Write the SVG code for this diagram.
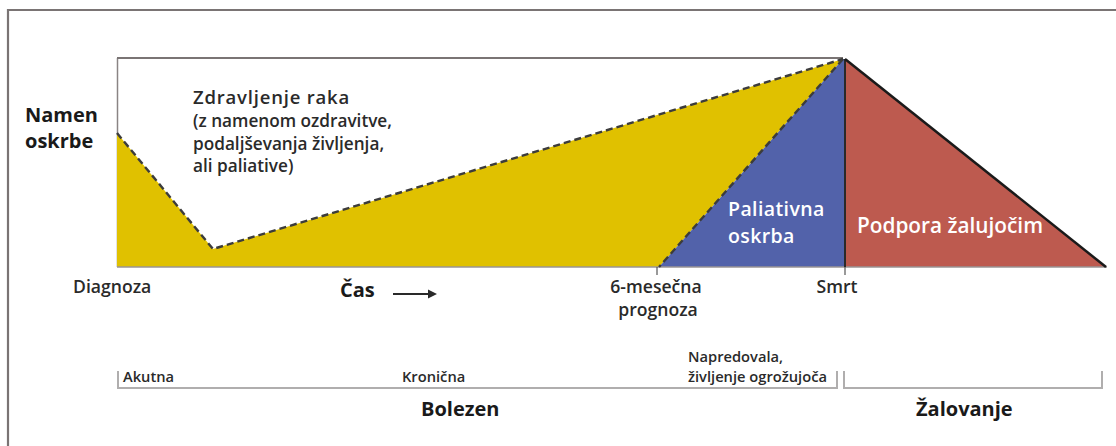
<svg xmlns="http://www.w3.org/2000/svg" width="1116" height="446" viewBox="0 0 1116 446">
<style>
text{font-family:"Open Sans","Noto Sans","Liberation Sans",sans-serif;fill:#2a2a2a;font-weight:600}
.b{font-weight:bold;fill:#1a1a1a;font-size:20px}
.w{fill:#ffffff}
.lbl{font-size:17.6px}
.sm{font-size:14.7px}
.frame{fill:none;stroke:#7a7474;stroke-width:2.2}
.br{fill:none;stroke:#b0aeae;stroke-width:2}
.dash{fill:none;stroke:#3c3c3c;stroke-width:2.4;stroke-dasharray:7 4}
</style>
<rect width="1116" height="446" fill="#ffffff"/>
<g id="frame">
<path class="frame" d="M8,446 V10 H1116"/>
</g>
<g id="chart">
<path d="M117.5,58 V267" fill="none" stroke="#8a8484" stroke-width="1.5"/>
<path d="M117,58 H843" fill="none" stroke="#7a7474" stroke-width="2"/>
<polygon id="cancer-care" points="117,133 213,249 843,59 659,267 117,267" fill="#e0c100"/>
<polygon id="palliative" points="843,59 845,59 845,267 659,267" fill="#5262aa"/>
<polygon id="bereavement" points="845,59 1106,267 845,267" fill="#bd5a4f"/>
<path d="M117,267 H1107" fill="none" stroke="#9a9494" stroke-width="1.5"/>
</g>
<g id="connectors">
<path class="dash" d="M117,133 L213,249 L843,59"/>
<path class="dash" d="M843,59 L659,267"/>
<path d="M845,59 V267" stroke="#2a2a2a" stroke-width="2" fill="none"/>
<path d="M845,59 L1106,267" stroke="#1a1a1a" stroke-width="2.5" fill="none"/>
<path d="M657,267 V275" stroke="#555" stroke-width="1.2"/>
<path d="M845,267 V275" stroke="#555" stroke-width="1.2"/>
<path d="M393,294 H430" stroke="#2a2a2a" stroke-width="2"/>
<polygon points="428,289.5 437,294 428,298.5" fill="#2a2a2a"/>
<path class="br" d="M118,371 V388 H837 V371"/>
<path class="br" d="M844,371 V388 H1102 V371"/>
</g>
<g id="y-axis-label">
<text class="b" x="25" y="122">Namen</text>
<text class="b" x="25" y="148">oskrbe</text>
</g>
<g id="cancer-care-label">
<text x="193" y="104" font-size="18.5" letter-spacing="0.8">Zdravljenje raka</text>
<text x="193" y="127" font-size="17.2">(z namenom ozdravitve,</text>
<text x="193" y="150" font-size="17.2">podaljševanja življenja,</text>
<text x="193" y="172" font-size="17.2">ali paliative)</text>
</g>
<g id="palliative-label">
<text class="w" x="728" y="216" font-size="19.5" letter-spacing="0.4">Paliativna</text>
<text class="w" x="728" y="243" font-size="19.5" letter-spacing="0.4">oskrba</text>
</g>
<g id="bereavement-label">
<text class="w" x="857" y="233" font-size="20.8">Podpora žalujočim</text>
</g>
<g id="time-labels">
<text x="73" y="293" class="lbl">Diagnoza</text>
<text class="b" x="340" y="297">Čas</text>
<text x="656" y="293" class="lbl" text-anchor="middle">6-mesečna</text>
<text x="658" y="316" class="lbl" text-anchor="middle">prognoza</text>
<text x="837" y="293" class="lbl" text-anchor="middle">Smrt</text>
</g>
<g id="phase-labels">
<text x="123" y="382" class="sm">Akutna</text>
<text x="402" y="382" class="sm">Kronična</text>
<text x="688" y="362" class="sm">Napredovala,</text>
<text x="688" y="382" class="sm">življenje ogrožujoča</text>
<text class="b" x="421" y="416" font-size="20.5">Bolezen</text>
<text class="b" x="916" y="416">Žalovanje</text>
</g>
</svg>
